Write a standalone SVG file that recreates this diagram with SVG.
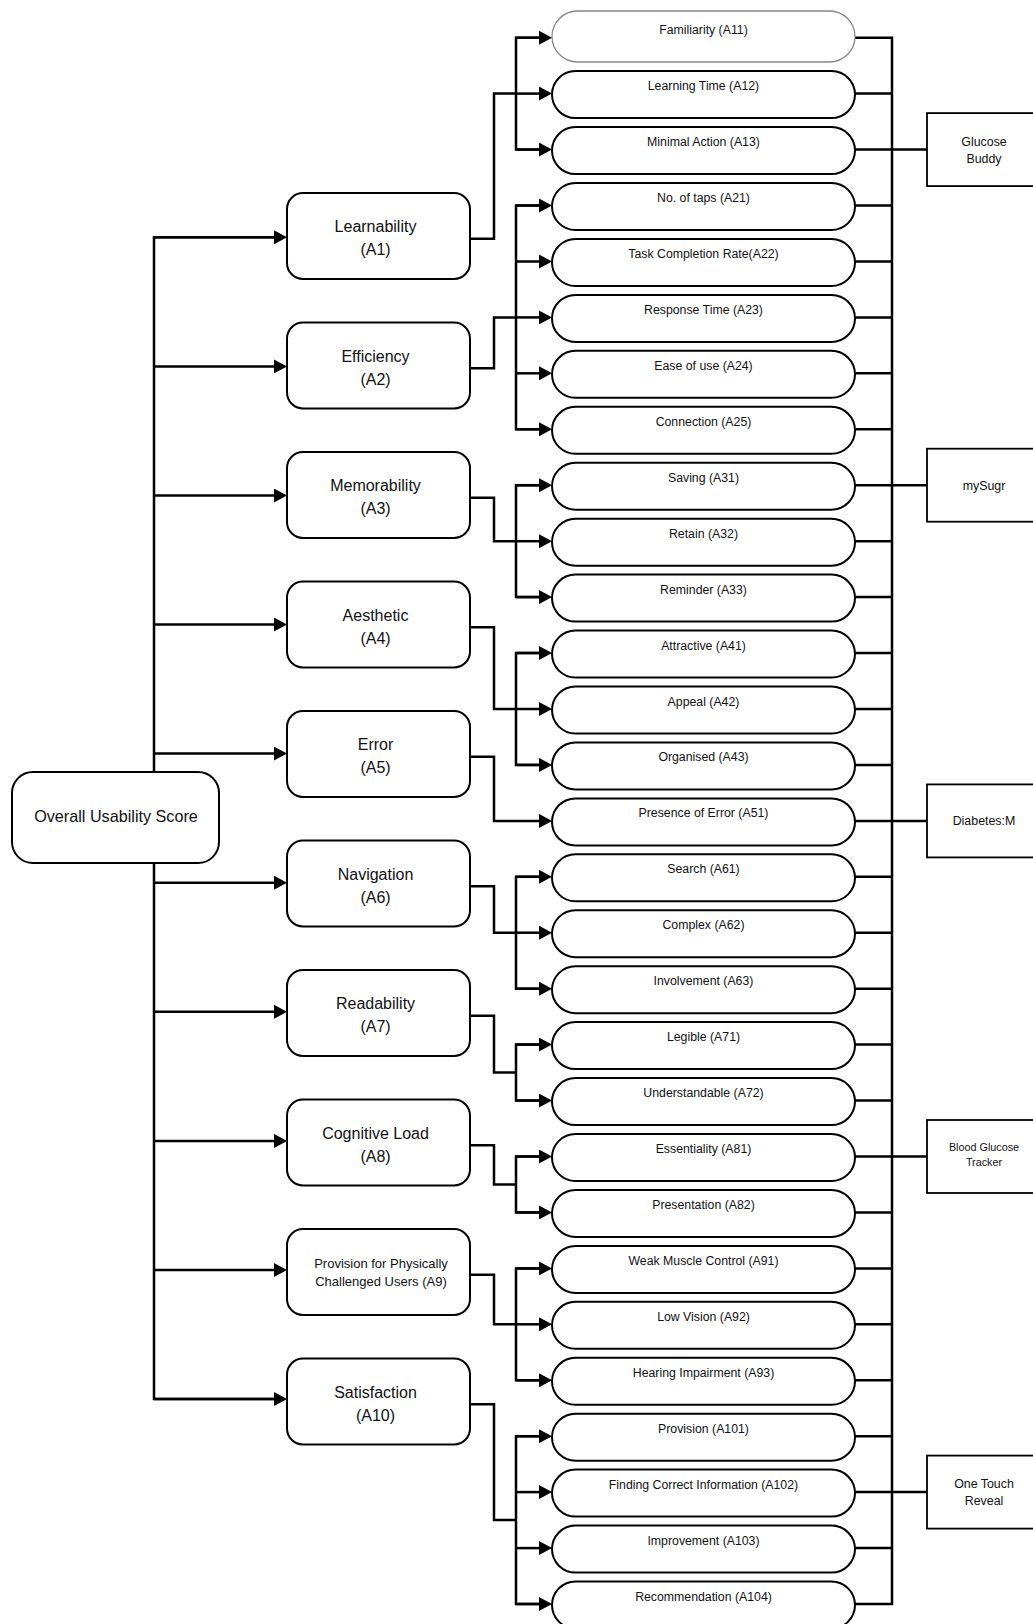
<svg xmlns="http://www.w3.org/2000/svg" width="1033" height="1624" viewBox="0 0 1033 1624">
<defs>
<marker id="ah" markerUnits="userSpaceOnUse" viewBox="0 -7 13 14" refX="0" refY="0" markerWidth="13" markerHeight="14" orient="auto">
<path d="M0,-7 L13,0 L0,7 z" fill="#000"/>
</marker>
<style>
.c{fill:none;stroke:#000;stroke-width:2.5;stroke-linejoin:miter}
.a{fill:none;stroke:#000;stroke-width:2.5;marker-end:url(#ah)}
.box{fill:#fff;stroke:#000;stroke-width:2}
.app{fill:#fff;stroke:#000;stroke-width:1.8}
.t{font-family:"Liberation Sans",Arial,sans-serif;fill:#111;text-anchor:middle}
.mt{font-size:16px}
.lt{font-size:12.3px}
.at{font-size:12.4px}
</style>
</defs>
<rect width="1033" height="1624" fill="#fff"/>
<g id="connectors">
<!-- trunk -->
<path class="c" d="M274,237.3 H154 V1399 H274"/>
<path class="a" d="M154,237.3 H274"/>
<path class="a" d="M154,366.4 H274"/>
<path class="a" d="M154,495.5 H274"/>
<path class="a" d="M154,624.5 H274"/>
<path class="a" d="M154,753.6 H274"/>
<path class="a" d="M154,882.7 H274"/>
<path class="a" d="M154,1011.8 H274"/>
<path class="a" d="M154,1140.9 H274"/>
<path class="a" d="M154,1270 H274"/>
<path class="a" d="M154,1399 H274"/>
<!-- elbows from mid boxes -->
<path class="c" d="M470,238.7 H494 V93.6 H516"/>
<path class="c" d="M470,368.2 H494 V317.4 H516"/>
<path class="c" d="M470,497.7 H494 V541.2 H516"/>
<path class="c" d="M470,627.2 H494 V709 H516"/>
<path class="a" d="M470,756.7 H494 V820.9 H539"/>
<path class="c" d="M470,886.2 H494 V932.7 H516"/>
<path class="c" d="M470,1015.7 H494 V1072.6 H516"/>
<path class="c" d="M470,1145.2 H494 V1184.5 H516"/>
<path class="c" d="M470,1274.7 H494 V1324.3 H516"/>
<path class="c" d="M470,1404.2 H494 V1520.1 H516"/>
<!-- brackets -->
<path class="c" d="M539,37.7 H516 V149.6 H539"/>
<path class="c" d="M539,205.5 H516 V429.3 H539"/>
<path class="c" d="M539,485.2 H516 V597.1 H539"/>
<path class="c" d="M539,653 H516 V764.9 H539"/>
<path class="c" d="M539,876.8 H516 V988.7 H539"/>
<path class="c" d="M539,1044.6 H516 V1100.6 H539"/>
<path class="c" d="M539,1156.5 H516 V1212.4 H539"/>
<path class="c" d="M539,1268.4 H516 V1380.3 H539"/>
<path class="c" d="M539,1436.2 H516 V1604 H539"/>
<!-- leaf arrows -->
<path class="a" d="M516,37.7 H539"/>
<path class="a" d="M516,93.6 H539"/>
<path class="a" d="M516,149.6 H539"/>
<path class="a" d="M516,205.5 H539"/>
<path class="a" d="M516,261.5 H539"/>
<path class="a" d="M516,317.4 H539"/>
<path class="a" d="M516,373.3 H539"/>
<path class="a" d="M516,429.3 H539"/>
<path class="a" d="M516,485.2 H539"/>
<path class="a" d="M516,541.2 H539"/>
<path class="a" d="M516,597.1 H539"/>
<path class="a" d="M516,653 H539"/>
<path class="a" d="M516,709 H539"/>
<path class="a" d="M516,764.9 H539"/>
<path class="a" d="M516,876.8 H539"/>
<path class="a" d="M516,932.7 H539"/>
<path class="a" d="M516,988.7 H539"/>
<path class="a" d="M516,1044.6 H539"/>
<path class="a" d="M516,1100.6 H539"/>
<path class="a" d="M516,1156.5 H539"/>
<path class="a" d="M516,1212.4 H539"/>
<path class="a" d="M516,1268.4 H539"/>
<path class="a" d="M516,1324.3 H539"/>
<path class="a" d="M516,1380.3 H539"/>
<path class="a" d="M516,1436.2 H539"/>
<path class="a" d="M516,1492.1 H539"/>
<path class="a" d="M516,1548.1 H539"/>
<path class="a" d="M516,1604 H539"/>
<!-- right bus -->
<path class="c" d="M855,37.7 H892 V1604 H855"/>
<path class="c" d="M855,93.6 H892 M855,149.6 H927 M855,205.5 H892 M855,261.5 H892 M855,317.4 H892 M855,373.3 H892 M855,429.3 H892 M855,485.2 H927 M855,541.2 H892 M855,597.1 H892 M855,653 H892 M855,709 H892 M855,764.9 H892 M855,820.9 H927 M855,876.8 H892 M855,932.7 H892 M855,988.7 H892 M855,1044.6 H892 M855,1100.6 H892 M855,1156.5 H927 M855,1212.4 H892 M855,1268.4 H892 M855,1324.3 H892 M855,1380.3 H892 M855,1436.2 H892 M855,1492.1 H927 M855,1548.1 H892"/>
</g>
<g id="root">
<rect class="box" x="12" y="772" width="207" height="91" rx="21"/>
<text class="t" x="116" y="821.5" font-size="16.2">Overall Usability Score</text>
</g>
<g id="A1"><rect class="box" x="287" y="193" width="183" height="86" rx="16"/><text class="t mt" x="375.5" y="232">Learnability</text><text class="t mt" x="375.5" y="255">(A1)</text></g>
<g id="A2"><rect class="box" x="287" y="322.5" width="183" height="86" rx="16"/><text class="t mt" x="375.5" y="361.5">Efficiency</text><text class="t mt" x="375.5" y="384.5">(A2)</text></g>
<g id="A3"><rect class="box" x="287" y="452" width="183" height="86" rx="16"/><text class="t mt" x="375.5" y="491">Memorability</text><text class="t mt" x="375.5" y="514">(A3)</text></g>
<g id="A4"><rect class="box" x="287" y="581.5" width="183" height="86" rx="16"/><text class="t mt" x="375.5" y="620.5">Aesthetic</text><text class="t mt" x="375.5" y="643.5">(A4)</text></g>
<g id="A5"><rect class="box" x="287" y="711" width="183" height="86" rx="16"/><text class="t mt" x="375.5" y="750">Error</text><text class="t mt" x="375.5" y="773">(A5)</text></g>
<g id="A6"><rect class="box" x="287" y="840.5" width="183" height="86" rx="16"/><text class="t mt" x="375.5" y="879.5">Navigation</text><text class="t mt" x="375.5" y="902.5">(A6)</text></g>
<g id="A7"><rect class="box" x="287" y="970" width="183" height="86" rx="16"/><text class="t mt" x="375.5" y="1009">Readability</text><text class="t mt" x="375.5" y="1032">(A7)</text></g>
<g id="A8"><rect class="box" x="287" y="1099.5" width="183" height="86" rx="16"/><text class="t mt" x="375.5" y="1138.5">Cognitive Load</text><text class="t mt" x="375.5" y="1161.5">(A8)</text></g>
<g id="A9"><rect class="box" x="287" y="1229" width="183" height="86" rx="16"/><text class="t" font-size="13" x="381" y="1267.5">Provision for Physically</text><text class="t" font-size="13" x="381" y="1285.5">Challenged Users (A9)</text></g>
<g id="A10"><rect class="box" x="287" y="1358.5" width="183" height="86" rx="16"/><text class="t mt" x="375.5" y="1397.5">Satisfaction</text><text class="t mt" x="375.5" y="1420.5">(A10)</text></g>
<g id="A11"><rect x="552" y="11" width="303" height="51" rx="25.5" fill="#fff" stroke="#888" stroke-width="1.3"/><text class="t lt" x="703.5" y="34.2">Familiarity (A11)</text></g>
<g id="A12"><rect class="box" x="552" y="71.1" width="303" height="47" rx="23.5"/><text class="t lt" x="703.5" y="90.1">Learning Time (A12)</text></g>
<g id="A13"><rect class="box" x="552" y="127.1" width="303" height="47" rx="23.5"/><text class="t lt" x="703.5" y="146.1">Minimal Action (A13)</text></g>
<g id="A21"><rect class="box" x="552" y="183" width="303" height="47" rx="23.5"/><text class="t lt" x="703.5" y="202">No. of taps (A21)</text></g>
<g id="A22"><rect class="box" x="552" y="239" width="303" height="47" rx="23.5"/><text class="t lt" x="703.5" y="258">Task Completion Rate(A22)</text></g>
<g id="A23"><rect class="box" x="552" y="294.9" width="303" height="47" rx="23.5"/><text class="t lt" x="703.5" y="313.9">Response Time (A23)</text></g>
<g id="A24"><rect class="box" x="552" y="350.8" width="303" height="47" rx="23.5"/><text class="t lt" x="703.5" y="369.8">Ease of use (A24)</text></g>
<g id="A25"><rect class="box" x="552" y="406.8" width="303" height="47" rx="23.5"/><text class="t lt" x="703.5" y="425.8">Connection (A25)</text></g>
<g id="A31"><rect class="box" x="552" y="462.7" width="303" height="47" rx="23.5"/><text class="t lt" x="703.5" y="481.7">Saving (A31)</text></g>
<g id="A32"><rect class="box" x="552" y="518.7" width="303" height="47" rx="23.5"/><text class="t lt" x="703.5" y="537.7">Retain (A32)</text></g>
<g id="A33"><rect class="box" x="552" y="574.6" width="303" height="47" rx="23.5"/><text class="t lt" x="703.5" y="593.6">Reminder (A33)</text></g>
<g id="A41"><rect class="box" x="552" y="630.5" width="303" height="47" rx="23.5"/><text class="t lt" x="703.5" y="649.5">Attractive (A41)</text></g>
<g id="A42"><rect class="box" x="552" y="686.5" width="303" height="47" rx="23.5"/><text class="t lt" x="703.5" y="705.5">Appeal (A42)</text></g>
<g id="A43"><rect class="box" x="552" y="742.4" width="303" height="47" rx="23.5"/><text class="t lt" x="703.5" y="761.4">Organised (A43)</text></g>
<g id="A51"><rect class="box" x="552" y="798.4" width="303" height="47" rx="23.5"/><text class="t lt" x="703.5" y="817.4">Presence of Error (A51)</text></g>
<g id="A61"><rect class="box" x="552" y="854.3" width="303" height="47" rx="23.5"/><text class="t lt" x="703.5" y="873.3">Search (A61)</text></g>
<g id="A62"><rect class="box" x="552" y="910.2" width="303" height="47" rx="23.5"/><text class="t lt" x="703.5" y="929.2">Complex (A62)</text></g>
<g id="A63"><rect class="box" x="552" y="966.2" width="303" height="47" rx="23.5"/><text class="t lt" x="703.5" y="985.2">Involvement (A63)</text></g>
<g id="A71"><rect class="box" x="552" y="1022.1" width="303" height="47" rx="23.5"/><text class="t lt" x="703.5" y="1041.1">Legible (A71)</text></g>
<g id="A72"><rect class="box" x="552" y="1078.1" width="303" height="47" rx="23.5"/><text class="t lt" x="703.5" y="1097.1">Understandable (A72)</text></g>
<g id="A81"><rect class="box" x="552" y="1134" width="303" height="47" rx="23.5"/><text class="t lt" x="703.5" y="1153">Essentiality (A81)</text></g>
<g id="A82"><rect class="box" x="552" y="1189.9" width="303" height="47" rx="23.5"/><text class="t lt" x="703.5" y="1208.9">Presentation (A82)</text></g>
<g id="A91"><rect class="box" x="552" y="1245.9" width="303" height="47" rx="23.5"/><text class="t lt" x="703.5" y="1264.9">Weak Muscle Control (A91)</text></g>
<g id="A92"><rect class="box" x="552" y="1301.8" width="303" height="47" rx="23.5"/><text class="t lt" x="703.5" y="1320.8">Low Vision (A92)</text></g>
<g id="A93"><rect class="box" x="552" y="1357.8" width="303" height="47" rx="23.5"/><text class="t lt" x="703.5" y="1376.8">Hearing Impairment (A93)</text></g>
<g id="A101"><rect class="box" x="552" y="1413.7" width="303" height="47" rx="23.5"/><text class="t lt" x="703.5" y="1432.7">Provision (A101)</text></g>
<g id="A102"><rect class="box" x="552" y="1469.6" width="303" height="47" rx="23.5"/><text class="t lt" x="703.5" y="1488.6">Finding Correct Information (A102)</text></g>
<g id="A103"><rect class="box" x="552" y="1525.6" width="303" height="47" rx="23.5"/><text class="t lt" x="703.5" y="1544.6">Improvement (A103)</text></g>
<g id="A104"><rect class="box" x="552" y="1581.5" width="303" height="47" rx="23.5"/><text class="t lt" x="703.5" y="1600.5">Recommendation (A104)</text></g>
<g id="app-glucose-buddy"><rect class="app" x="927" y="113.1" width="120" height="73"/><text class="t at" x="984" y="145.6">Glucose</text><text class="t at" x="984" y="162.6">Buddy</text></g>
<g id="app-mysugr"><rect class="app" x="927" y="448.7" width="120" height="73"/><text class="t at" x="984" y="489.7">mySugr</text></g>
<g id="app-diabetesm"><rect class="app" x="927" y="784.4" width="120" height="73"/><text class="t at" x="984" y="825.4">Diabetes:M</text></g>
<g id="app-bgt"><rect class="app" x="927" y="1120" width="120" height="73"/><text class="t" font-size="10.8" x="984" y="1150.5">Blood Glucose</text><text class="t" font-size="10.8" x="984" y="1165.5">Tracker</text></g>
<g id="app-otr"><rect class="app" x="927" y="1455.6" width="120" height="73"/><text class="t at" x="984" y="1488.1">One Touch</text><text class="t at" x="984" y="1505.1">Reveal</text></g>
</svg>
